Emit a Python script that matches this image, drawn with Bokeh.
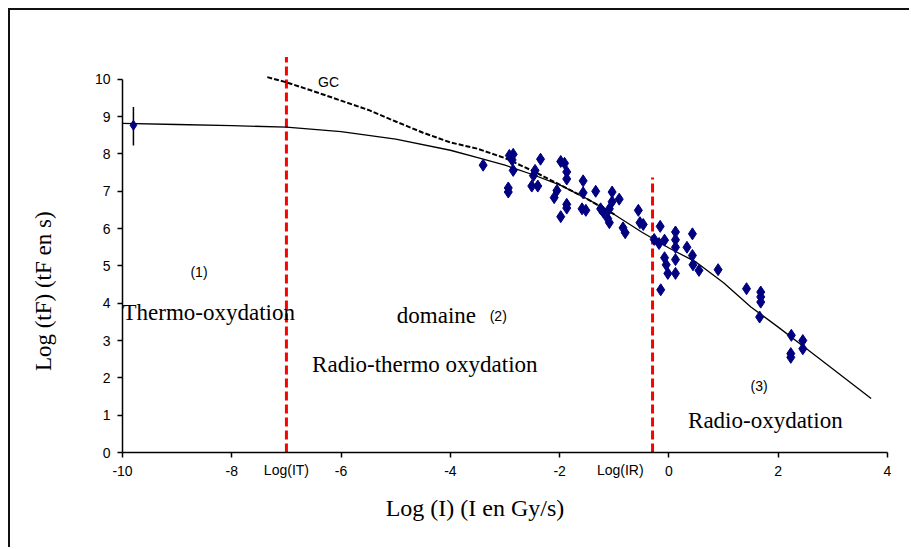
from bokeh.plotting import figure
from bokeh.models import Range1d, ColumnDataSource, FixedTicker, LinearAxis
from bokeh.core.properties import value
from bokeh.embed import file_html
from bokeh.resources import INLINE

# ---- data ----
x_ticks = [-10, -8, -6, -4, -2, 0, 2, 4]
y_ticks = [0, 1, 2, 3, 4, 5, 6, 7, 8, 9, 10]

# regime-limit labels under the x axis
limit_ticks = [-7.0, -0.89]
limit_labels = ["Log(IT)", "Log(IR)"]

# model curve (solid)
curve_x = [-10.0, -9.0, -8.0, -7.0, -6.0, -5.0, -4.0, -3.5, -3.0, -2.5, -2.0, -1.5, -1.0, -0.5,
           0.0, 0.5, 1.0, 1.5, 2.0, 2.5, 3.0, 3.7]
curve_y = [8.82, 8.79, 8.76, 8.72, 8.60, 8.40, 8.10, 7.90, 7.70, 7.45, 7.17, 6.80, 6.38, 5.91,
           5.48, 5.10, 4.55, 3.90, 3.36, 2.80, 2.24, 1.45]

# GC curve (dashed)
gc_x = [-7.35, -7.0, -6.5, -6.0, -5.5, -5.0, -4.5, -4.0, -3.5, -3.0, -2.5, -2.0, -1.5, -1.0]
gc_y = [10.06, 9.92, 9.68, 9.43, 9.18, 8.87, 8.57, 8.31, 8.14, 7.89, 7.55, 7.18, 6.80, 6.38]

# experimental points
pts_x = [-3.40, -2.92, -2.85, -2.87, -2.85, -2.94, -2.94, -2.35, -2.45, -2.48, -2.51, -2.40,
         -1.98, -1.91, -1.87, -1.87, -2.05, -2.10, -1.98, -1.87, -1.87, -1.57, -1.57, -1.59,
         -1.52, -1.34, -1.25, -1.20, -1.12, -1.04, -1.04, -1.09, -0.91, -1.09, -0.84, -0.80,
         -0.56, -0.53, -0.47, -0.16, -0.27, -0.18, -0.08, -0.08, -0.05, -0.02, -0.15, 0.12,
         0.12, 0.12, 0.12, 0.12, 0.33, 0.43, 0.43, 0.44, 0.55, 0.90, 1.42, 1.68, 1.68, 1.68,
         1.66, 2.24, 2.45, 2.45, 2.23, 2.23]
pts_y = [7.70, 7.96, 7.99, 7.84, 7.56, 7.09, 6.98, 7.86, 7.56, 7.42, 7.14, 7.14,
         7.80, 7.75, 7.52, 7.33, 7.02, 6.83, 6.32, 6.65, 6.55, 7.28, 6.96, 6.53,
         6.49, 7.00, 6.53, 6.44, 6.27, 6.98, 6.72, 6.53, 6.79, 6.16, 6.02, 5.89,
         6.49, 6.16, 6.11, 6.06, 5.71, 5.60, 5.69, 5.22, 5.03, 4.80, 4.36, 5.91,
         5.70, 5.50, 5.17, 4.80, 5.50, 5.86, 5.28, 5.03, 4.88, 4.90, 4.39, 4.30, 4.17, 4.03,
         3.63, 3.14, 3.00, 2.78, 2.65, 2.55]

# thermal-oxidation point with error bar
th_x = [-9.8]
th_y = [8.77]
th_lo = [8.23]
th_hi = [9.26]

# regime boundaries
bound_x = [-7.0, -0.3]
bound_top = [10.6, 7.37]

serif_x = [-10.0, -4.98, -6.53, 0.35]
serif_y = [3.75, 3.67, 2.37, 0.87]
serif_text = ["Thermo-oxydation", "domaine", "Radio-thermo oxydation", "Radio-oxydation"]

sans_x = [-8.60, -3.28, 1.65, -6.42]
sans_y = [4.85, 3.67, 1.77, 9.93]
sans_text = ["(1)", "(2)", "(3)", "GC"]
sans_align = ["center", "left", "center", "left"]

NB = "\u00a0"

p = figure(width=901, height=539, x_range=Range1d(-10, 4), y_range=Range1d(0, 10.8),
           output_backend="svg", toolbar_location=None,
           min_border_left=112, min_border_right=24, min_border_top=39, min_border_bottom=97)
p.styles = {"margin-left": "8px", "margin-top": "8px",
            "border-top": "2px solid #111", "border-left": "2px solid #111"}
p.background_fill_color = "white"
p.border_fill_color = "white"
p.outline_line_color = None
p.grid.visible = False

limit_axis = LinearAxis()
p.add_layout(limit_axis, "below")

for ax in (p.xaxis[0], limit_axis, p.yaxis[0]):
    ax.major_tick_in = 0
    ax.major_tick_out = 5
    ax.minor_tick_line_color = None
    ax.axis_line_color = "black"
    ax.axis_line_width = 1.5
    ax.major_tick_line_color = "black"
    ax.major_tick_line_width = 1.5
    ax.major_label_text_font = "Liberation Sans"
    ax.major_label_text_font_size = "14px"
    ax.major_label_text_color = "black"
    ax.axis_label_text_font = "Liberation Serif"
    ax.axis_label_text_font_style = "normal"
    ax.axis_label_text_font_size = "24px"
    ax.axis_label_text_color = "black"

xa = p.xaxis[0]
xa.bounds = (-10, 4)
xa.ticker = FixedTicker(ticks=x_ticks)
xa.major_label_overrides = {t: str(t) for t in x_ticks}
xa.major_label_standoff = 8

limit_axis.ticker = FixedTicker(ticks=limit_ticks)
limit_axis.major_label_overrides = dict(zip(limit_ticks, limit_labels))
limit_axis.axis_line_color = None
limit_axis.major_tick_line_color = None
limit_axis.major_tick_out = 0
limit_axis.major_label_standoff = -17
limit_axis.axis_label = "Log (I) (I en Gy/s)" + NB * 10
limit_axis.axis_label_standoff = 14

ya = p.yaxis[0]
ya.bounds = (0, 10)
ya.ticker = FixedTicker(ticks=y_ticks)
ya.major_label_standoff = 7
ya.axis_label = "Log (tF) (tF en s)" + NB * 14
ya.axis_label_text_font_size = "23px"
ya.axis_label_standoff = 36

# regime boundaries
p.segment(x0=bound_x, y0=[0, 0], x1=bound_x, y1=bound_top, line_color="#ff0000",
          line_width=3, line_dash="9 4")

# curves
p.line(gc_x, gc_y, line_color="black", line_width=2, line_dash="5 2")
p.line(curve_x, curve_y, line_color="black", line_width=1.3)

# points
p.scatter(pts_x, pts_y, marker="diamond", size=12, fill_color="#000080", line_color="#000080")
p.segment(x0=th_x, y0=th_lo, x1=th_x, y1=th_hi, line_color="black", line_width=1.5)
p.scatter(th_x, th_y, marker="diamond", size=10, fill_color="#000080", line_color="#000080")

# texts
p.text(x="x", y="y", text="t", source=ColumnDataSource(dict(x=serif_x, y=serif_y, t=serif_text)),
       text_font=value("Liberation Serif"), text_font_size="23px", text_baseline="middle",
       text_align="left", text_color="black")
p.text(x="x", y="y", text="t", text_align="a",
       source=ColumnDataSource(dict(x=sans_x, y=sans_y, t=sans_text, a=sans_align)),
       text_font=value("Liberation Sans"), text_font_size="14px", text_baseline="middle",
       text_color="black")

open("out.html", "w").write(file_html(p, INLINE))
